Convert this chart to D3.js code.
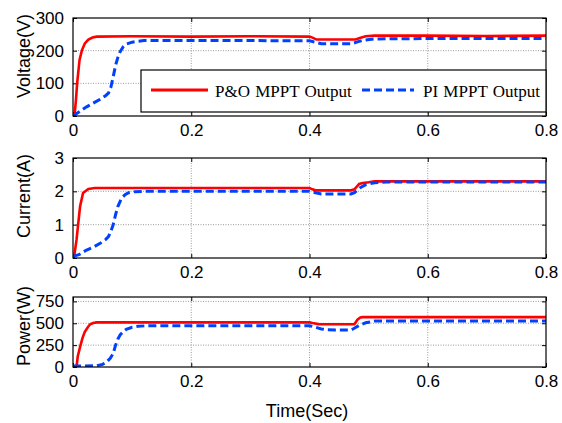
<!DOCTYPE html>
<html>
<head>
<meta charset="utf-8">
<script src="https://cdn.jsdelivr.net/npm/d3@7"></script>
<style>
  html, body { margin: 0; padding: 0; background: #fff; }
  svg { display: block; }
</style>
</head>
<body>
<svg id="chart" width="562" height="423"></svg>
<script>
// ---------------- Data ----------------
const xTicks = [0, 0.2, 0.4, 0.6, 0.8];
const xTickLabels = ["0", "0.2", "0.4", "0.6", "0.8"];
const seriesNames = ["P&O MPPT Output", "PI MPPT Output"];

// Voltage (V)
const voltTicks = [0, 100, 200, 300];
const voltTickLabels = ["0", "100", "200", "300"];
const voltPOt = [0, 0.003, 0.005, 0.007, 0.011, 0.015, 0.02, 0.026, 0.033, 0.04, 0.1, 0.2, 0.3, 0.4, 0.405, 0.412, 0.45, 0.478, 0.485, 0.495, 0.51, 0.6, 0.7, 0.8];
const voltPO  = [0, 10, 49, 100, 171, 201, 222, 234, 240, 243, 244, 243, 244, 243, 240, 234, 234, 234, 239, 244, 246, 246, 245, 246];
const voltPIt = [0, 0.01, 0.023, 0.035, 0.046, 0.055, 0.06, 0.064, 0.068, 0.072, 0.076, 0.08, 0.085, 0.09, 0.1, 0.11, 0.12, 0.2, 0.3, 0.4, 0.41, 0.42, 0.47, 0.48, 0.49, 0.51, 0.6, 0.8];
const voltPI  = [0, 12, 28, 40, 51, 62, 70, 88, 120, 155, 180, 198, 212, 220, 226, 229, 231, 231, 231, 230, 226, 221, 221, 226, 232, 236, 237, 237];

// Current (A)
const currTicks = [0, 1, 2, 3];
const currTickLabels = ["0", "1", "2", "3"];
const currPOt = [0, 0.002, 0.006, 0.009, 0.012, 0.017, 0.026, 0.037, 0.1, 0.4, 0.405, 0.41, 0.47, 0.476, 0.484, 0.49, 0.5, 0.51, 0.6, 0.8];
const currPO  = [0, 0.05, 0.55, 1.06, 1.55, 1.95, 2.07, 2.1, 2.1, 2.1, 2.06, 2.03, 2.03, 2.06, 2.22, 2.25, 2.27, 2.3, 2.3, 2.3];
const currPIt = [0, 0.01, 0.023, 0.035, 0.046, 0.055, 0.06, 0.064, 0.068, 0.072, 0.076, 0.082, 0.088, 0.094, 0.105, 0.12, 0.4, 0.41, 0.42, 0.47, 0.476, 0.485, 0.495, 0.51, 0.53, 0.8];
const currPI  = [0.05, 0.1, 0.24, 0.33, 0.44, 0.55, 0.64, 0.8, 1.0, 1.3, 1.55, 1.79, 1.9, 1.96, 1.99, 2.0, 2.0, 1.96, 1.92, 1.92, 1.96, 2.1, 2.2, 2.26, 2.28, 2.28];

// Power (W)
const powTicks = [0, 250, 500, 750];
const powTickLabels = ["0", "250", "500", "750"];
const powPOt = [0, 0.006, 0.008, 0.012, 0.016, 0.02, 0.025, 0.029, 0.034, 0.04, 0.1, 0.4, 0.405, 0.415, 0.42, 0.47, 0.476, 0.481, 0.486, 0.49, 0.6, 0.8];
const powPO  = [0, 0, 120, 230, 330, 403, 455, 488, 502, 510, 510, 510, 502, 490, 488, 488, 490, 540, 565, 570, 570, 570];
const powPIt = [0, 0.02, 0.04, 0.05, 0.057, 0.063, 0.068, 0.072, 0.076, 0.08, 0.085, 0.09, 0.1, 0.11, 0.125, 0.4, 0.41, 0.42, 0.43, 0.47, 0.475, 0.485, 0.495, 0.51, 0.8];
const powPI  = [12, 12, 14, 30, 58, 100, 154, 250, 320, 370, 403, 430, 454, 465, 472, 472, 455, 435, 425, 423, 440, 480, 505, 525, 527];

// ---------------- Drawing ----------------
const svg = d3.select("#chart");
const left = 73, right = 546;
const x = d3.scaleLinear().domain([0, 0.8]).range([left, right]);
const colors = ["#ff0000", "#0040ff"];
const tickFont = "Liberation Sans, Arial, sans-serif";

const panels = [
  { top: 18, bottom: 116, domain: [0, 300], ticks: voltTicks, tickLabels: voltTickLabels, label: "Voltage(V)", labelY: 56,
    series: [[voltPOt, voltPO], [voltPIt, voltPI]] },
  { top: 158, bottom: 258, domain: [0, 3], ticks: currTicks, tickLabels: currTickLabels, label: "Current(A)", labelY: 196,
    series: [[currPOt, currPO], [currPIt, currPI]] },
  { top: 297, bottom: 367, domain: [0, 800], ticks: powTicks, tickLabels: powTickLabels, label: "Power(W)", labelY: 326,
    series: [[powPOt, powPO], [powPIt, powPI]] }
];

panels.forEach((p, pi) => {
  const y = d3.scaleLinear().domain(p.domain).range([p.bottom, p.top]);
  const g = svg.append("g");
  const clipId = "clip" + pi;
  svg.append("clipPath").attr("id", clipId).append("rect")
    .attr("x", left).attr("y", p.top - 2).attr("width", right - left).attr("height", p.bottom - p.top + 2);

  // grid
  g.append("g").selectAll("line").data(xTicks.filter(t => t > 0 && t < 0.8)).join("line")
    .attr("x1", d => x(d)).attr("x2", d => x(d)).attr("y1", p.top).attr("y2", p.bottom)
    .attr("stroke", "#9a9a9a").attr("stroke-width", 1).attr("stroke-dasharray", "1,1.5");
  g.append("g").selectAll("line").data(p.ticks.filter(t => t > p.domain[0] && t < p.domain[1])).join("line")
    .attr("x1", left).attr("x2", right).attr("y1", d => y(d)).attr("y2", d => y(d))
    .attr("stroke", "#9a9a9a").attr("stroke-width", 1).attr("stroke-dasharray", "1,1.5");

  // axes with inward ticks
  const ax = g.append("g").attr("font-family", tickFont).attr("font-size", 17);
  const yl = d3.axisLeft(y).tickValues(p.ticks).tickFormat((d, i) => p.tickLabels[i]).tickSizeInner(-4).tickSizeOuter(0).tickPadding(9);
  const yr = d3.axisRight(y).tickValues(p.ticks).tickSizeInner(-4).tickSizeOuter(0).tickFormat("");
  const xb = d3.axisBottom(x).tickValues(xTicks).tickFormat((d, i) => xTickLabels[i]).tickSizeInner(-4).tickSizeOuter(0).tickPadding(8);
  const xt = d3.axisTop(x).tickValues(xTicks).tickSizeInner(-4).tickSizeOuter(0).tickFormat("");
  ax.append("g").attr("transform", `translate(${left},0)`).call(yl);
  ax.append("g").attr("transform", `translate(${right},0)`).call(yr);
  ax.append("g").attr("transform", `translate(0,${p.bottom})`).call(xb);
  ax.append("g").attr("transform", `translate(0,${p.top})`).call(xt);
  ax.selectAll(".domain").remove();
  ax.selectAll(".tick line").attr("stroke", "#000");
  ax.selectAll(".tick text").attr("fill", "#000").attr("font-family", tickFont).attr("font-size", 17);

  // series
  const line = d3.line().x(d => x(d[0])).y(d => y(d[1]));
  p.series.forEach((s, si) => {
    const pts = s[0].map((t, i) => [t, s[1][i]]);
    g.append("path").datum(pts).attr("d", line)
      .attr("clip-path", `url(#${clipId})`)
      .attr("fill", "none").attr("stroke", colors[si]).attr("stroke-width", si === 0 ? 2.6 : 3)
      .attr("stroke-dasharray", si === 1 ? "8,4" : null);
  });

  // box
  g.append("rect").attr("x", left).attr("y", p.top).attr("width", right - left).attr("height", p.bottom - p.top)
    .attr("fill", "none").attr("stroke", "#000").attr("stroke-width", 1.2);

  // y label
  svg.append("text").attr("transform", `translate(30,${p.labelY}) rotate(-90)`)
    .attr("text-anchor", "middle").attr("font-family", tickFont).attr("font-size", 18).text(p.label);
});

// x label
svg.append("text").attr("x", 307).attr("y", 417).attr("text-anchor", "middle")
  .attr("font-family", tickFont).attr("font-size", 18).text("Time(Sec)");

// legend
const lg = svg.append("g");
lg.append("rect").attr("x", 141).attr("y", 70).attr("width", 405).attr("height", 42)
  .attr("fill", "#fff").attr("stroke", "#000").attr("stroke-width", 1.2);
const legItems = [
  { x1: 151, x2: 208, tx: 215 },
  { x1: 362, x2: 414, tx: 423 }
];
legItems.forEach((it, i) => {
  lg.append("line").attr("x1", it.x1).attr("x2", it.x2).attr("y1", 90).attr("y2", 90)
    .attr("stroke", colors[i]).attr("stroke-width", 3).attr("stroke-dasharray", i === 1 ? "8,4" : null);
  lg.append("text").attr("x", it.tx).attr("y", 97)
    .attr("font-family", "Liberation Serif, Times New Roman, serif").attr("font-size", 17)
    .attr("word-spacing", 1)
    .text(seriesNames[i]);
});
</script>
</body>
</html>
